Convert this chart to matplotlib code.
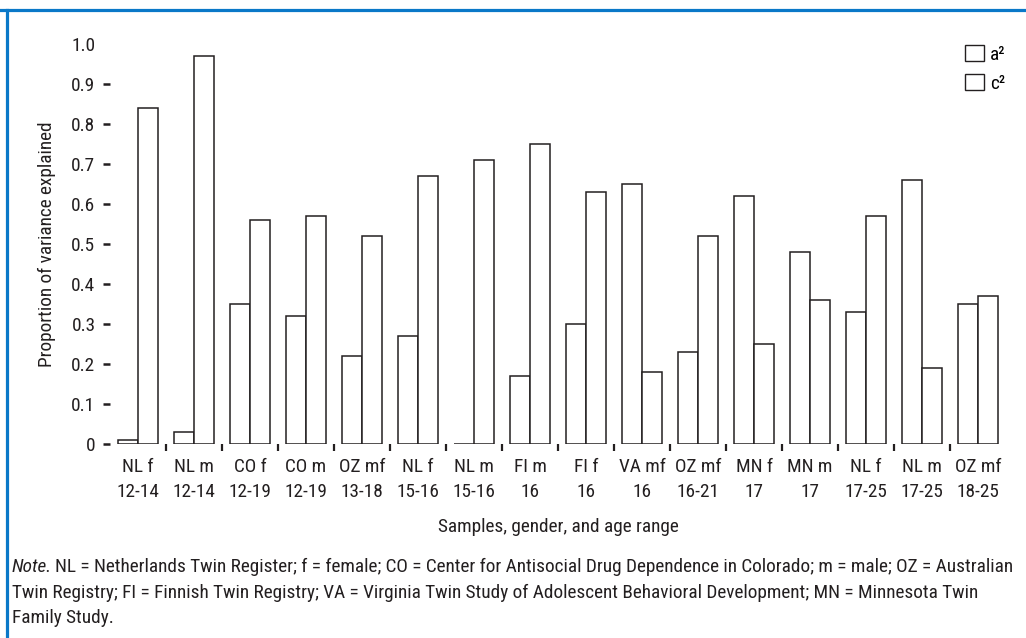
import matplotlib.pyplot as plt
import numpy as np
from matplotlib import font_manager
from matplotlib.patches import Patch
from matplotlib.lines import Line2D

installed = set(f.name for f in font_manager.fontManager.ttflist)
for fam in ['Roboto Condensed', 'Liberation Sans Narrow', 'Archivo Narrow', 'PT Sans Narrow',
            'Fira Sans Condensed', 'IBM Plex Sans Condensed', 'Liberation Sans']:
    if fam in installed:
        break
plt.rcParams['font.family'] = [fam, 'DejaVu Sans']

groups = ["NL f\n12-14", "NL m\n12-14", "CO f\n12-19", "CO m\n12-19", "OZ mf\n13-18",
          "NL f\n15-16", "NL m\n15-16", "FI m\n16", "FI f\n16", "VA mf\n16",
          "OZ mf\n16-21", "MN f\n17", "MN m\n17", "NL f\n17-25", "NL m\n17-25", "OZ mf\n18-25"]
a2 = [0.01, 0.03, 0.35, 0.32, 0.22, 0.27, 0.00, 0.17, 0.30, 0.65, 0.23, 0.62, 0.48, 0.33, 0.66, 0.35]
c2 = [0.84, 0.97, 0.56, 0.57, 0.52, 0.67, 0.71, 0.75, 0.63, 0.18, 0.52, 0.25, 0.36, 0.57, 0.19, 0.37]
yticks = [0, 0.1, 0.2, 0.3, 0.4, 0.5, 0.6, 0.7, 0.8, 0.9, 1.0]
ytick_labels = ["0", "0.1", "0.2", "0.3", "0.4", "0.5", "0.6", "0.7", "0.8", "0.9", "1.0"]

fs = 13.9
ink = '#231f20'
fig = plt.figure(figsize=(10.26, 6.38), dpi=100)
ax = fig.add_axes([0.1072, 0.3041, 0.8772, 0.6270])

x = np.arange(len(groups))
w = 20 / 56
ax.bar(x - w / 2, a2, w, color='white', edgecolor=ink, linewidth=1.1, label='a²')
ax.bar(x + w / 2, c2, w, color='white', edgecolor=ink, linewidth=1.1, label='c²')

ax.set_xlim(-0.5, 15.571)
ax.set_ylim(0, 1.0)
for s in ax.spines.values():
    s.set_visible(False)

ax.set_yticks(yticks)
ax.set_yticklabels(ytick_labels, fontsize=fs, color=ink)
ax.tick_params(axis='y', length=5, width=1.8, pad=5.5, color=ink)
ax.yaxis.get_major_ticks()[-1].tick1line.set_visible(False)

ax.set_xticks(x)
ax.set_xticklabels(groups, fontsize=fs, color=ink, linespacing=1.5)
ax.tick_params(axis='x', which='major', length=0, pad=10)
ax.set_xticks(x[:-1] + 0.5, minor=True)
ax.tick_params(axis='x', which='minor', length=5, width=1.6, color=ink)

ax.set_xlabel("Samples, gender, and age range", fontsize=fs, color=ink)
ax.xaxis.set_label_coords(0.4978, -0.185)
ax.set_ylabel("Proportion of variance explained", fontsize=fs, color=ink)
ax.yaxis.set_label_coords(-0.06, 0.5)

handles = [Patch(facecolor='white', edgecolor=ink, linewidth=1.0, label='a²'),
           Patch(facecolor='white', edgecolor=ink, linewidth=1.0, label='c²')]
fig.legend(handles=handles, loc='upper left', bbox_to_anchor=(965 / 1026, 1 - 45 / 638),
           frameon=False, fontsize=fs, handlelength=1.0, handleheight=0.9, handletextpad=0.3,
           labelspacing=0.55, borderaxespad=0, borderpad=0)

# blue frame
fig.add_artist(Line2D([0, 1], [0.985, 0.985], transform=fig.transFigure, color='#0a78c8', linewidth=2.3))
fig.add_artist(Line2D([0.0068, 0.0068], [0, 0.985], transform=fig.transFigure, color='#0a78c8', linewidth=2.3))

# note
fig.canvas.draw()
r = fig.canvas.get_renderer()
t = fig.text(12 / 1026, 1 - 567 / 638, "Note.", fontsize=fs, style='italic', color=ink, va='center')
bb = t.get_window_extent(renderer=r)
fig.text(bb.x1 / 1026 + 0.003, 1 - 567 / 638,
         "NL = Netherlands Twin Register; f = female; CO = Center for Antisocial Drug Dependence in Colorado; m = male; OZ = Australian",
         fontsize=fs, color=ink, va='center')
fig.text(12 / 1026, 1 - 593 / 638,
         "Twin Registry; FI = Finnish Twin Registry; VA = Virginia Twin Study of Adolescent Behavioral Development; MN = Minnesota Twin",
         fontsize=fs, color=ink, va='center')
fig.text(12 / 1026, 1 - 618 / 638, "Family Study.", fontsize=fs, color=ink, va='center')

fig.savefig("out.png", dpi=100)
